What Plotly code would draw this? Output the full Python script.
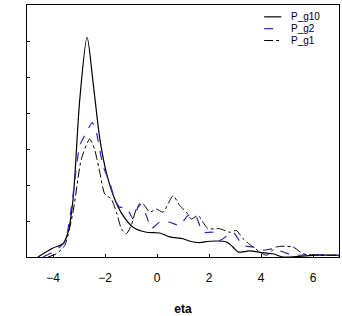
import plotly.graph_objects as go

# density curves
x_g10 = [-4.58, -4.0, -3.62, -3.42, -3.23, -2.97, -2.69, -2.46, -2.2, -1.95, -1.63, -1.31, -0.92,
         -0.41, 0.1, 0.49, 1.0, 1.26, 1.64, 2.03, 2.67, 2.92, 3.12, 3.56, 4.08, 4.46, 4.85, 5.5, 6.1, 6.77, 7.0]
y_g10 = [0.0, 0.025, 0.037, 0.069, 0.16, 0.44, 0.613, 0.488, 0.33, 0.236, 0.162, 0.116, 0.083,
         0.069, 0.067, 0.056, 0.051, 0.044, 0.04, 0.044, 0.042, 0.028, 0.014, 0.017, 0.012, 0.009, 0.0, 0.002, 0.005, 0.005, 0.004]

x_g2 = [-4.38, -4.0, -3.55, -3.29, -2.97, -2.72, -2.49, -2.33, -2.08, -1.82, -1.63, -1.44, -1.18, -0.92,
        -0.67, -0.41, -0.22, 0.1, 0.49, 0.87, 1.19, 1.45, 1.77, 2.15, 2.41, 2.92, 3.31, 3.69, 4.08, 4.46,
        4.85, 5.23, 5.74, 6.26, 6.9, 7.0]
y_g2 = [0.0, 0.014, 0.042, 0.14, 0.31, 0.347, 0.375, 0.347, 0.255, 0.208, 0.162, 0.139, 0.139, 0.106,
        0.148, 0.116, 0.079, 0.097, 0.097, 0.088, 0.116, 0.12, 0.069, 0.069, 0.046, 0.069, 0.032, 0.028,
        0.019, 0.023, 0.014, 0.005, 0.006, 0.006, 0.005, 0.005]

x_g1 = [-4.19, -3.87, -3.55, -3.23, -2.91, -2.59, -2.4, -2.2, -2.01, -1.76, -1.56, -1.37, -1.18, -0.99,
        -0.79, -0.54, -0.28, -0.03, 0.23, 0.62, 0.87, 1.13, 1.32, 1.58, 1.77, 1.96, 2.41, 2.79, 3.05, 3.31,
        3.69, 4.21, 4.59, 5.23, 5.62, 6.26, 6.9, 7.0]
y_g1 = [0.0, 0.009, 0.032, 0.125, 0.273, 0.329, 0.30, 0.236, 0.176, 0.162, 0.125, 0.079, 0.065, 0.088,
        0.134, 0.148, 0.125, 0.134, 0.125, 0.171, 0.144, 0.125, 0.106, 0.116, 0.097, 0.079, 0.079, 0.069,
        0.074, 0.051, 0.028, 0.005, 0.028, 0.028, 0.009, 0.005, 0.005, 0.005]

x_ticks = [-4, -2, 0, 2, 4, 6]
y_ticks = [0, 0.1, 0.2, 0.3, 0.4, 0.5, 0.6]

series = [
    ("P_g10", x_g10, y_g10, dict(color="black", width=1.2, shape="spline", smoothing=0.8)),
    ("P_g2", x_g2, y_g2, dict(color="#2a2ab4", width=1.2, dash="dash", shape="spline", smoothing=0.6)),
    ("P_g1", x_g1, y_g1, dict(color="black", width=1.0, dash="dashdot", shape="spline", smoothing=0.6)),
]

fig = go.Figure()
for name, xs, ys, ln in series:
    fig.add_trace(go.Scatter(x=xs, y=ys, name=name, mode="lines", line=ln))

# plotly's legend rows are too tall, so draw a compact one by hand
for i, (name, xs, ys, ln) in enumerate(series):
    yy = 0.953 - i * 0.047
    fig.add_shape(type="line", xref="paper", yref="paper", x0=0.76, x1=0.815, y0=yy, y1=yy,
                  line=dict(color=ln["color"], width=ln["width"], dash=ln.get("dash", "solid")))
    fig.add_annotation(x=0.84, y=yy, xref="paper", yref="paper", text=name, showarrow=False,
                       xanchor="left", yanchor="middle", font=dict(size=10))

fig.update_layout(
    width=342,
    height=316,
    margin=dict(l=27, r=2, t=5, b=57),
    plot_bgcolor="white",
    paper_bgcolor="white",
    font=dict(family="Liberation Sans, Arial", size=12, color="black"),
    showlegend=False,
)
fig.update_xaxes(
    range=[-5, 7], tickvals=x_ticks, ticktext=["\u22124", "\u22122", "0", "2", "4", "6"],
    showline=True, linecolor="black", linewidth=1, mirror=True,
    ticks="inside", ticklen=3, tickcolor="black", showgrid=False, zeroline=False,
    ticklabelstandoff=10,
    title=dict(text="<b>eta</b>", font=dict(size=12), standoff=20),
)
fig.update_yaxes(
    range=[0, 0.703], tickvals=y_ticks, showticklabels=False,
    showline=True, linecolor="black", linewidth=1, mirror=True,
    ticks="inside", ticklen=3, tickcolor="black", showgrid=False, zeroline=False,
)

# page body has a default margin that pushes the figure out of the window
fig.write_html("out.html", config={"displayModeBar": False},
               post_script="document.body.style.margin='0';")
